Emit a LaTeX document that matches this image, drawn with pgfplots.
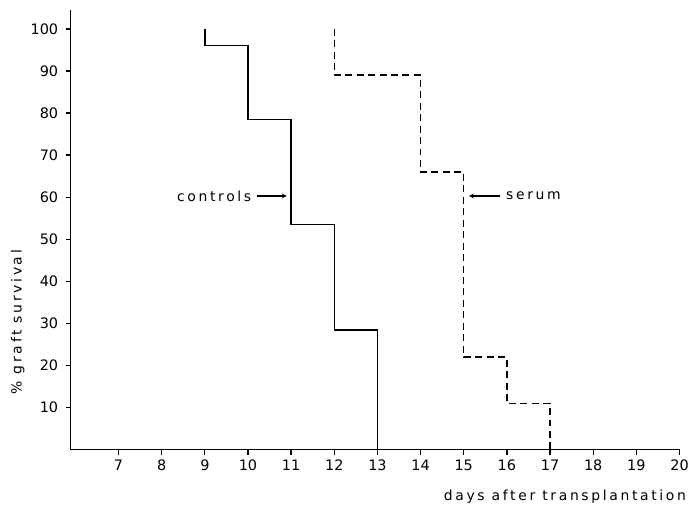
\documentclass[border=0pt]{standalone}
\usepackage{fontspec}
\setmainfont{DejaVu Sans}
\newfontfamily\lsfont[LetterSpace=19]{DejaVu Sans}
\usepackage{pgfplots}
\pgfplotsset{compat=1.18}
\begin{document}
\begin{tikzpicture}
\begin{axis}[
  scale only axis,
  width=612pt, height=442pt,
  xmin=5.89, xmax=20, ymin=0, ymax=104.5,
  axis x line*=bottom, axis y line*=left,
  axis line style={line width=1.5pt},
  xtick={7,...,20}, ytick={10,20,...,100},
  tick align=outside, major tick length=5pt,
  tick style={line width=1.3pt, black},
  /pgf/number format/assume math mode=true,
  ticklabel style={font=\fontsize{14.5}{16}\selectfont},
  xticklabel style={yshift=-2pt},
  yticklabel style={xshift=-4pt},
  xlabel={\lsfont days after transplantation},
  xlabel style={font=\fontsize{14}{16}\selectfont, at={(axis description cs:1,0)}, anchor=base east, xshift=10pt, yshift=-51pt},
  ylabel={\lsfont \% graft survival},
  ylabel style={font=\fontsize{14}{16}\selectfont, at={(axis description cs:-0.087,0.29)}, anchor=center},
  clip=false,
]
\addplot[black, line width=1.5pt] coordinates {
  (9,100) (9,96) (10,96) (10,78.5) (11,78.5) (11,53.5) (12,53.5) (12,28.5) (13,28.5) (13,0)
};
\addplot[black, line width=1.5pt, dash pattern=on 7pt off 4.5pt] coordinates {
  (12,100) (12,89) (14,89) (14,66) (15,66) (15,22) (16,22) (16,11) (17,11) (17,0)
};
\node[anchor=east, font=\lsfont\fontsize{14}{16}\selectfont, inner sep=0pt] at (axis cs:10.08,60.3) {controls};
\draw[-stealth, line width=1.2pt] (axis cs:10.2,60.3) -- (axis cs:10.9,60.3);
\node[anchor=west, font=\lsfont\fontsize{14}{16}\selectfont, inner sep=0pt] at (axis cs:15.98,60.3) {serum};
\draw[-stealth, line width=1.2pt] (axis cs:15.85,60.3) -- (axis cs:15.12,60.3);
\end{axis}
\path (-71pt,-59pt) rectangle (621pt,452pt);
\end{tikzpicture}
\end{document}
